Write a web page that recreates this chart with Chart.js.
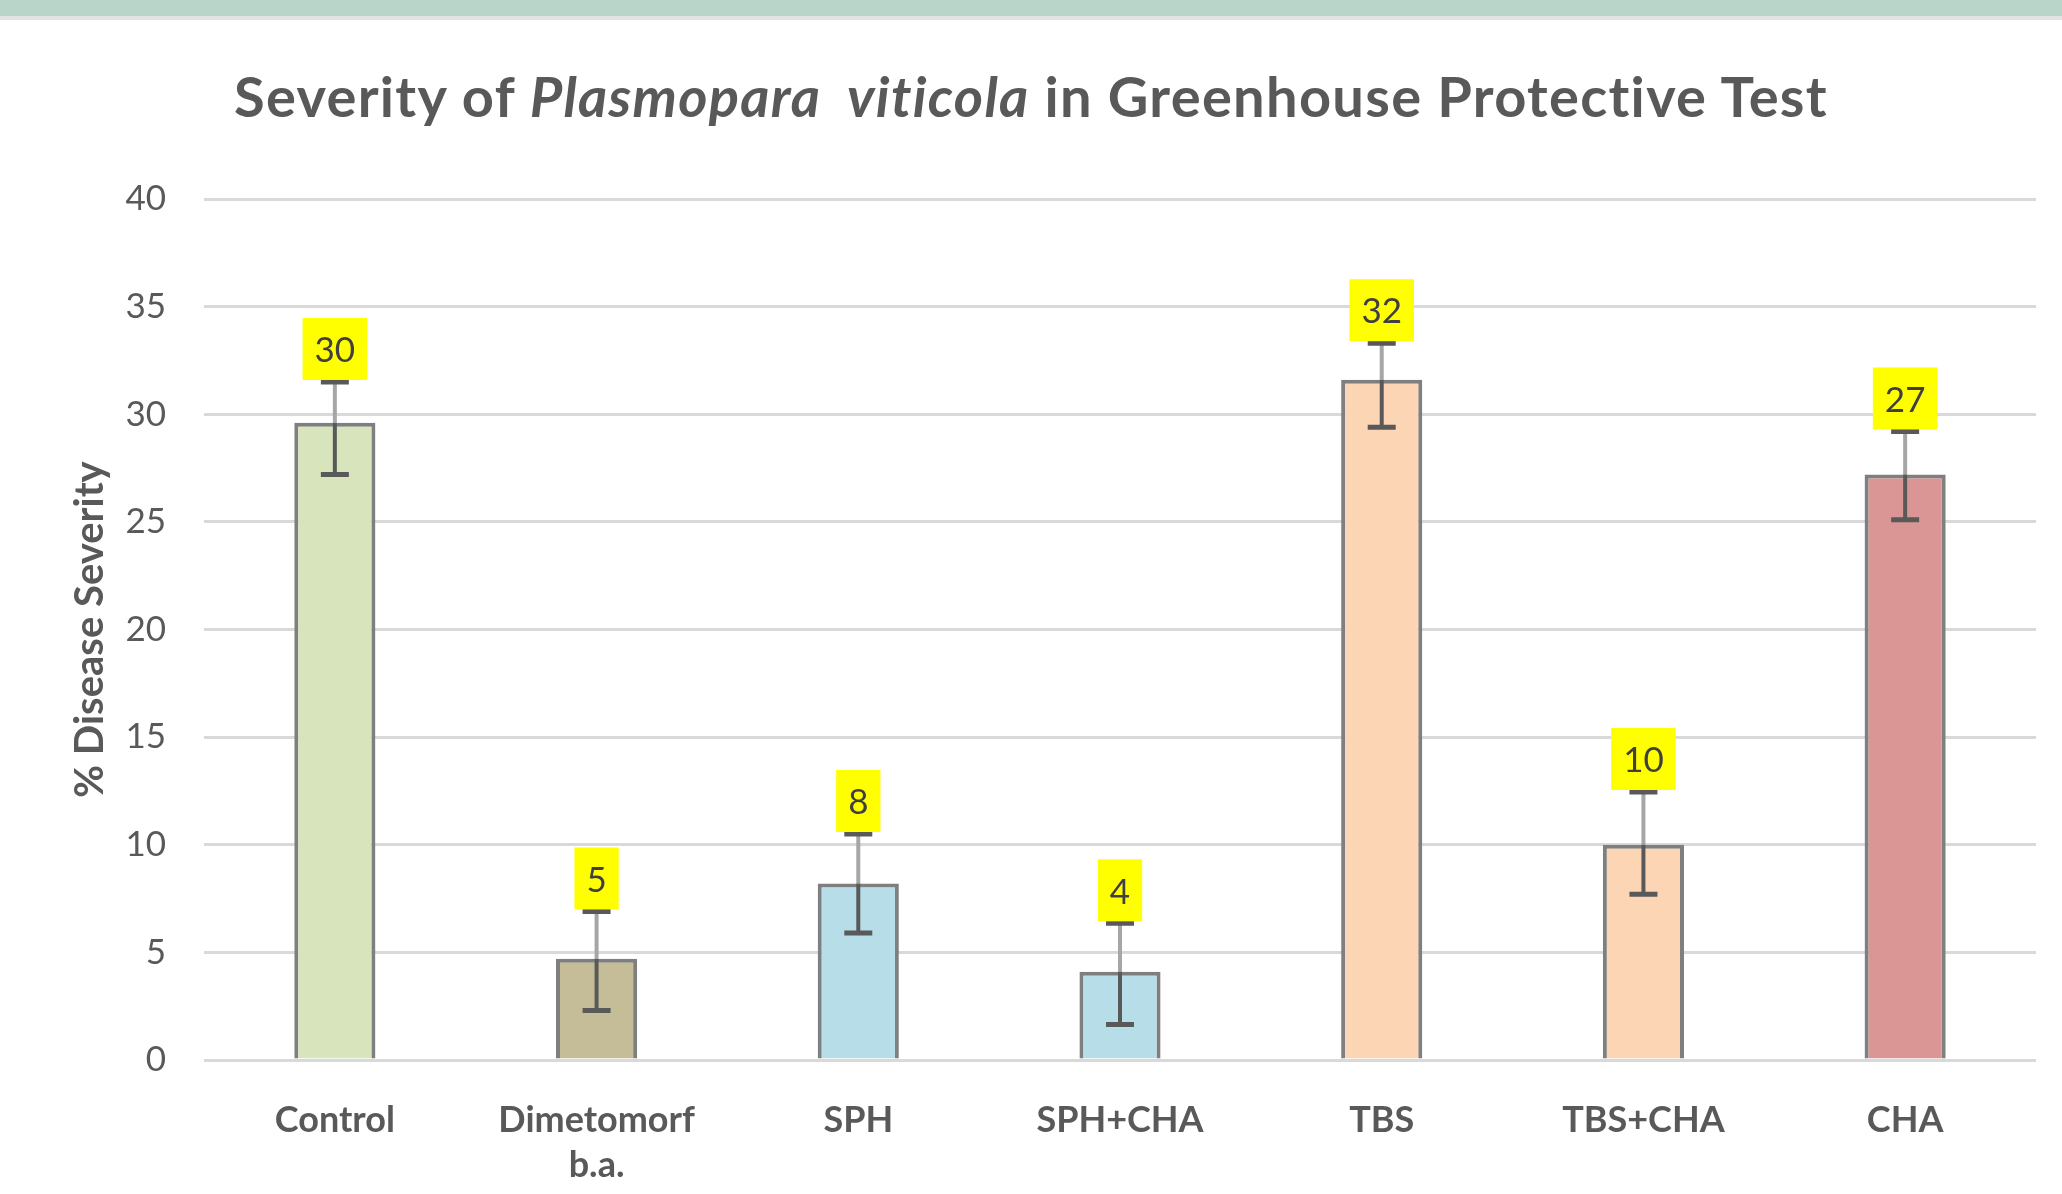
<!DOCTYPE html>
<html>
<head>
<meta charset="utf-8">
<script src="https://cdn.jsdelivr.net/npm/chart.js@4/dist/chart.umd.min.js"></script>
<style>
  html, body { margin: 0; padding: 0; background: #fff; }
  body { width: 2062px; height: 1194px; position: relative; overflow: hidden; font-family: Lato, "Open Sans", sans-serif; }
  #band { position: absolute; left: 0; top: 0; width: 2062px; height: 16px; background: #b9d4c9; }
  #bandline { position: absolute; left: 0; top: 16px; width: 2062px; height: 4px; background: #e3e3e3; }
  #title { position: absolute; left: 0; width: 2062px; top: 62px; text-align: center; font-size: 56px; letter-spacing: 1.3px; font-weight: bold; color: #595959; white-space: pre; }
  #wrap { position: absolute; left: 0; top: 0; width: 2062px; height: 1194px; }
</style>
</head>
<body>
<div id="band"></div>
<div id="bandline"></div>
<div id="wrap"><canvas id="chart"></canvas></div>
<div id="title">Severity of <i>Plasmopara  viticola</i> in Greenhouse Protective Test</div>
<script>
// values
var categories = [["Control"], ["Dimetomorf", "b.a."], ["SPH"], ["SPH+CHA"], ["TBS"], ["TBS+CHA"], ["CHA"]];
var severity = [29.6, 4.7, 8.2, 4.1, 31.6, 10.0, 27.2];
var errLow  = [27.2, 2.3, 5.9, 1.65, 29.4, 7.7, 25.1];
var errHigh = [31.5, 6.9, 10.5, 6.35, 33.3, 12.45, 29.2];
var barColors = ["#d8e4bc", "#c4bd97", "#b7dde8", "#b7dde8", "#fcd5b4", "#fcd5b4", "#da9694"];
var yTicks = [0, 5, 10, 15, 20, 25, 30, 35, 40];

// error bars + yellow value boxes
var extras = {
  id: "extras",
  afterDatasetsDraw(chart) {
    var ctx = chart.ctx;
    var y = chart.scales.y;
    var meta = chart.getDatasetMeta(0);
    ctx.save();
    meta.data.forEach(function(bar, i) {
      var x = bar.x;
      var yTop = y.getPixelForValue(severity[i]);
      var yLo = y.getPixelForValue(errLow[i]);
      var yHi = y.getPixelForValue(errHigh[i]);
      ctx.lineWidth = 4;
      ctx.strokeStyle = "#a6a6a6";
      ctx.beginPath(); ctx.moveTo(x, yHi); ctx.lineTo(x, yTop); ctx.stroke();
      ctx.strokeStyle = "#595959";
      ctx.beginPath(); ctx.moveTo(x, yTop); ctx.lineTo(x, yLo); ctx.stroke();
      ctx.lineWidth = 5;
      ctx.beginPath();
      ctx.moveTo(x - 14, yLo); ctx.lineTo(x + 14, yLo);
      ctx.moveTo(x - 14, yHi); ctx.lineTo(x + 14, yHi);
      ctx.stroke();

      var txt = String(Math.round(severity[i]));
      ctx.font = "35px Lato";
      var w = ctx.measureText(txt).width + 24;
      var h = 62;
      var bottom = yHi - 2;
      ctx.fillStyle = "#ffff00";
      ctx.fillRect(x - w / 2, bottom - h, w, h);
      ctx.fillStyle = "#404040";
      ctx.textAlign = "center";
      ctx.textBaseline = "middle";
      ctx.fillText(txt, x, bottom - h / 2 + 2);
    });
    ctx.restore();
  }
};

new Chart(document.getElementById("chart"), {
  type: "bar",
  data: {
    labels: categories,
    datasets: [{
      data: severity,
      backgroundColor: barColors,
      borderColor: "#7f7f7f",
      borderWidth: 4,
      borderSkipped: "bottom",
      categoryPercentage: 1,
      barPercentage: 0.31
    }]
  },
  options: {
    responsive: true,
    maintainAspectRatio: false,
    animation: false,
    layout: { padding: { top: 199, right: 26, left: 0, bottom: 0 } },
    plugins: { legend: { display: false }, tooltip: { enabled: false } },
    scales: {
      x: {
        grid: { display: false },
        border: { display: false },
        ticks: { color: "#595959", font: { family: "Lato", size: 36, weight: "bold", lineHeight: 1.25 }, padding: 30 },
        afterFit: function(s) { s.height = 134; }
      },
      y: {
        min: 0, max: 40,
        afterBuildTicks: function(s) { s.ticks = yTicks.map(function(v) { return { value: v }; }); },
        grid: { color: "#d9d9d9", lineWidth: 3, drawTicks: false },
        border: { display: false },
        ticks: { color: "#595959", font: { family: "Lato", size: 35 }, padding: 38 },
        title: { display: true, text: "% Disease Severity", color: "#595959", font: { family: "Lato", size: 40, weight: "bold" }, padding: { top: 66 } },
        afterFit: function(s) { s.width = 204; }
      }
    }
  },
  plugins: [extras]
});
</script>
</body>
</html>
